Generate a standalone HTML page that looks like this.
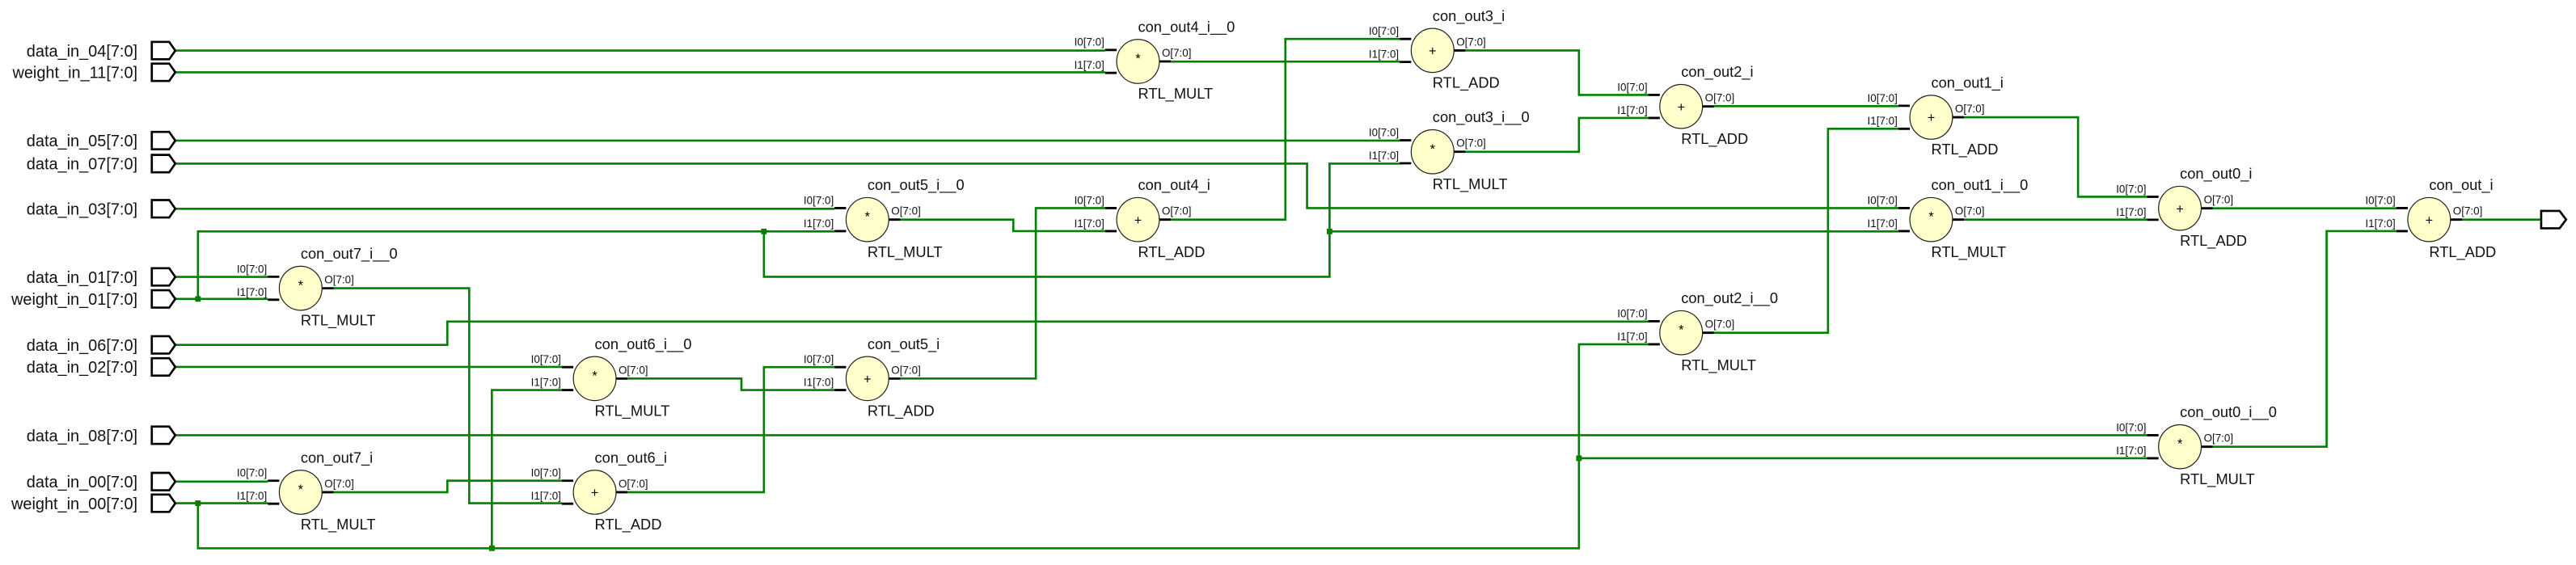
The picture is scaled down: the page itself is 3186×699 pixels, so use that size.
<!DOCTYPE html>
<html><head><meta charset="utf-8"><style>
html,body{margin:0;padding:0;background:#fff;width:3186px;height:699px;overflow:hidden}
svg{display:block}
.w{fill:none;stroke:#008000;stroke-width:1.3}
.st{stroke:#000;stroke-width:1.4}
.c{fill:#ffffcc;stroke:#222;stroke-width:.6}
.pl{font-family:"Liberation Sans",sans-serif;font-size:9.8px;fill:#111;text-anchor:end}
.n{font-family:"Liberation Sans",sans-serif;font-size:9px;fill:#111}
.p{font-family:"Liberation Sans",sans-serif;font-size:6.6px;fill:#111}
.pe{text-anchor:end}
.s{font-family:"Liberation Sans",sans-serif;font-size:8px;fill:#000;text-anchor:middle}
.port{fill:#fff;stroke:#000;stroke-width:1.3}
.j{fill:#008000}
</style></head><body>
<svg width="3186" height="699" viewBox="0 0 1568 344" xmlns="http://www.w3.org/2000/svg">
<path class="w" d="M106.7,30.8H672.7"/>
<path class="w" d="M106.7,44H672.7"/>
<path class="w" d="M106.7,85.6H852"/>
<path class="w" d="M106.7,99.6H795.6V126.7H1155.5"/>
<path class="w" d="M106.7,127.1H508"/>
<path class="w" d="M106.7,168.6H163"/>
<path class="w" d="M106.7,182H163M120.5,182V140.9H508M465,140.9V168.5H809.3V99.6H852M809.3,140.9H1155.5"/>
<path class="w" d="M203,175.5H285.6V306.4H342"/>
<path class="w" d="M106.7,210H272.3V195.8H1003.3"/>
<path class="w" d="M106.7,223.4H342"/>
<path class="w" d="M106.7,306.4H163M120.5,306.4V333.8H961.1V209.6H1003.3M299.4,333.8V237.5H342M961.1,279H1306.9"/>
<path class="w" d="M106.7,293.2H163"/>
<path class="w" d="M203,299.7H272.3V292.7H342"/>
<path class="w" d="M106.7,265H1306.9"/>
<path class="w" d="M382,230.5H451.3V237.5H508"/>
<path class="w" d="M382,299.7H465V223.5H508"/>
<path class="w" d="M548,133.7H616.8V140.7H672.7"/>
<path class="w" d="M548,230.5H630.5V126.7H672.7"/>
<path class="w" d="M712.7,133.7H782.4V23.7H852"/>
<path class="w" d="M712.7,37.5H852"/>
<path class="w" d="M892,30.7H961.1V57.8H1003.3"/>
<path class="w" d="M892,92.4H961.1V71.8H1003.3"/>
<path class="w" d="M1043.3,64.6H1155.5"/>
<path class="w" d="M1043.3,202.6H1112.7V78.4H1155.5"/>
<path class="w" d="M1195.5,71.4H1264.9V119.8H1306.9"/>
<path class="w" d="M1195.5,133.7H1306.9"/>
<path class="w" d="M1346.9,126.8H1458.6"/>
<path class="w" d="M1346.9,272H1416.2V140.7H1458.6"/>
<path class="w" d="M1498.6,133.7H1546.8"/>
<rect class="j" x="118.8" y="180.3" width="3.4" height="3.4"/>
<rect class="j" x="463.3" y="139.2" width="3.4" height="3.4"/>
<rect class="j" x="807.6" y="139.2" width="3.4" height="3.4"/>
<rect class="j" x="118.8" y="304.7" width="3.4" height="3.4"/>
<rect class="j" x="297.7" y="332.1" width="3.4" height="3.4"/>
<rect class="j" x="959.4" y="277.3" width="3.4" height="3.4"/>
<g>
<path class="port" d="M92.4,25.5H103L106.7,30.8L103,36.1H92.4Z"/><text class="pl" x="83.7" y="34.4">data_in_04[7:0]</text>
<path class="port" d="M92.4,38.7H103L106.7,44L103,49.3H92.4Z"/><text class="pl" x="83.7" y="47.6">weight_in_11[7:0]</text>
<path class="port" d="M92.4,80.3H103L106.7,85.6L103,90.9H92.4Z"/><text class="pl" x="83.7" y="89.2">data_in_05[7:0]</text>
<path class="port" d="M92.4,94.3H103L106.7,99.6L103,104.9H92.4Z"/><text class="pl" x="83.7" y="103.2">data_in_07[7:0]</text>
<path class="port" d="M92.4,121.8H103L106.7,127.1L103,132.4H92.4Z"/><text class="pl" x="83.7" y="130.7">data_in_03[7:0]</text>
<path class="port" d="M92.4,163.3H103L106.7,168.6L103,173.9H92.4Z"/><text class="pl" x="83.7" y="172.2">data_in_01[7:0]</text>
<path class="port" d="M92.4,176.7H103L106.7,182L103,187.3H92.4Z"/><text class="pl" x="83.7" y="185.6">weight_in_01[7:0]</text>
<path class="port" d="M92.4,204.7H103L106.7,210L103,215.3H92.4Z"/><text class="pl" x="83.7" y="213.6">data_in_06[7:0]</text>
<path class="port" d="M92.4,218.1H103L106.7,223.4L103,228.7H92.4Z"/><text class="pl" x="83.7" y="227">data_in_02[7:0]</text>
<path class="port" d="M92.4,259.7H103L106.7,265L103,270.3H92.4Z"/><text class="pl" x="83.7" y="268.6">data_in_08[7:0]</text>
<path class="port" d="M92.4,287.9H103L106.7,293.2L103,298.5H92.4Z"/><text class="pl" x="83.7" y="296.8">data_in_00[7:0]</text>
<path class="port" d="M92.4,301.1H103L106.7,306.4L103,311.7H92.4Z"/><text class="pl" x="83.7" y="310">weight_in_00[7:0]</text>
</g>
<path class="port" d="M1546.8,128.4H1558L1562,133.7L1558,139H1546.8Z"/>
<g transform="translate(183,175.5)"><path class="st" d="M-20,-7H-13M-20,7H-13M13,0H20"/><ellipse class="c" rx="13" ry="13.4"/><text class="s" y="1">*</text><text class="p pe" x="-20.5" y="-9.5">I0[7:0]</text><text class="p pe" x="-20.5" y="4.5">I1[7:0]</text><text class="p" x="14.5" y="-3">O[7:0]</text><text class="n" y="-18">con_out7_i__0</text><text class="n" y="22.7">RTL_MULT</text></g>
<g transform="translate(183,299.7)"><path class="st" d="M-20,-7H-13M-20,7H-13M13,0H20"/><ellipse class="c" rx="13" ry="13.4"/><text class="s" y="1">*</text><text class="p pe" x="-20.5" y="-9.5">I0[7:0]</text><text class="p pe" x="-20.5" y="4.5">I1[7:0]</text><text class="p" x="14.5" y="-3">O[7:0]</text><text class="n" y="-18">con_out7_i</text><text class="n" y="22.7">RTL_MULT</text></g>
<g transform="translate(362,230.5)"><path class="st" d="M-20,-7H-13M-20,7H-13M13,0H20"/><ellipse class="c" rx="13" ry="13.4"/><text class="s" y="1">*</text><text class="p pe" x="-20.5" y="-9.5">I0[7:0]</text><text class="p pe" x="-20.5" y="4.5">I1[7:0]</text><text class="p" x="14.5" y="-3">O[7:0]</text><text class="n" y="-18">con_out6_i__0</text><text class="n" y="22.7">RTL_MULT</text></g>
<g transform="translate(362,299.7)"><path class="st" d="M-20,-7H-13M-20,7H-13M13,0H20"/><ellipse class="c" rx="13" ry="13.4"/><text class="s" y="3">+</text><text class="p pe" x="-20.5" y="-9.5">I0[7:0]</text><text class="p pe" x="-20.5" y="4.5">I1[7:0]</text><text class="p" x="14.5" y="-3">O[7:0]</text><text class="n" y="-18">con_out6_i</text><text class="n" y="22.7">RTL_ADD</text></g>
<g transform="translate(528,133.7)"><path class="st" d="M-20,-7H-13M-20,7H-13M13,0H20"/><ellipse class="c" rx="13" ry="13.4"/><text class="s" y="1">*</text><text class="p pe" x="-20.5" y="-9.5">I0[7:0]</text><text class="p pe" x="-20.5" y="4.5">I1[7:0]</text><text class="p" x="14.5" y="-3">O[7:0]</text><text class="n" y="-18">con_out5_i__0</text><text class="n" y="22.7">RTL_MULT</text></g>
<g transform="translate(528,230.5)"><path class="st" d="M-20,-7H-13M-20,7H-13M13,0H20"/><ellipse class="c" rx="13" ry="13.4"/><text class="s" y="3">+</text><text class="p pe" x="-20.5" y="-9.5">I0[7:0]</text><text class="p pe" x="-20.5" y="4.5">I1[7:0]</text><text class="p" x="14.5" y="-3">O[7:0]</text><text class="n" y="-18">con_out5_i</text><text class="n" y="22.7">RTL_ADD</text></g>
<g transform="translate(692.7,37.4)"><path class="st" d="M-20,-7H-13M-20,7H-13M13,0H20"/><ellipse class="c" rx="13" ry="13.4"/><text class="s" y="1">*</text><text class="p pe" x="-20.5" y="-9.5">I0[7:0]</text><text class="p pe" x="-20.5" y="4.5">I1[7:0]</text><text class="p" x="14.5" y="-3">O[7:0]</text><text class="n" y="-18">con_out4_i__0</text><text class="n" y="22.7">RTL_MULT</text></g>
<g transform="translate(692.7,133.7)"><path class="st" d="M-20,-7H-13M-20,7H-13M13,0H20"/><ellipse class="c" rx="13" ry="13.4"/><text class="s" y="3">+</text><text class="p pe" x="-20.5" y="-9.5">I0[7:0]</text><text class="p pe" x="-20.5" y="4.5">I1[7:0]</text><text class="p" x="14.5" y="-3">O[7:0]</text><text class="n" y="-18">con_out4_i</text><text class="n" y="22.7">RTL_ADD</text></g>
<g transform="translate(872,30.7)"><path class="st" d="M-20,-7H-13M-20,7H-13M13,0H20"/><ellipse class="c" rx="13" ry="13.4"/><text class="s" y="3">+</text><text class="p pe" x="-20.5" y="-9.5">I0[7:0]</text><text class="p pe" x="-20.5" y="4.5">I1[7:0]</text><text class="p" x="14.5" y="-3">O[7:0]</text><text class="n" y="-18">con_out3_i</text><text class="n" y="22.7">RTL_ADD</text></g>
<g transform="translate(872,92.4)"><path class="st" d="M-20,-7H-13M-20,7H-13M13,0H20"/><ellipse class="c" rx="13" ry="13.4"/><text class="s" y="1">*</text><text class="p pe" x="-20.5" y="-9.5">I0[7:0]</text><text class="p pe" x="-20.5" y="4.5">I1[7:0]</text><text class="p" x="14.5" y="-3">O[7:0]</text><text class="n" y="-18">con_out3_i__0</text><text class="n" y="22.7">RTL_MULT</text></g>
<g transform="translate(1023.3,64.8)"><path class="st" d="M-20,-7H-13M-20,7H-13M13,0H20"/><ellipse class="c" rx="13" ry="13.4"/><text class="s" y="3">+</text><text class="p pe" x="-20.5" y="-9.5">I0[7:0]</text><text class="p pe" x="-20.5" y="4.5">I1[7:0]</text><text class="p" x="14.5" y="-3">O[7:0]</text><text class="n" y="-18">con_out2_i</text><text class="n" y="22.7">RTL_ADD</text></g>
<g transform="translate(1023.3,202.6)"><path class="st" d="M-20,-7H-13M-20,7H-13M13,0H20"/><ellipse class="c" rx="13" ry="13.4"/><text class="s" y="1">*</text><text class="p pe" x="-20.5" y="-9.5">I0[7:0]</text><text class="p pe" x="-20.5" y="4.5">I1[7:0]</text><text class="p" x="14.5" y="-3">O[7:0]</text><text class="n" y="-18">con_out2_i__0</text><text class="n" y="22.7">RTL_MULT</text></g>
<g transform="translate(1175.5,71.4)"><path class="st" d="M-20,-7H-13M-20,7H-13M13,0H20"/><ellipse class="c" rx="13" ry="13.4"/><text class="s" y="3">+</text><text class="p pe" x="-20.5" y="-9.5">I0[7:0]</text><text class="p pe" x="-20.5" y="4.5">I1[7:0]</text><text class="p" x="14.5" y="-3">O[7:0]</text><text class="n" y="-18">con_out1_i</text><text class="n" y="22.7">RTL_ADD</text></g>
<g transform="translate(1175.5,133.7)"><path class="st" d="M-20,-7H-13M-20,7H-13M13,0H20"/><ellipse class="c" rx="13" ry="13.4"/><text class="s" y="1">*</text><text class="p pe" x="-20.5" y="-9.5">I0[7:0]</text><text class="p pe" x="-20.5" y="4.5">I1[7:0]</text><text class="p" x="14.5" y="-3">O[7:0]</text><text class="n" y="-18">con_out1_i__0</text><text class="n" y="22.7">RTL_MULT</text></g>
<g transform="translate(1326.9,126.8)"><path class="st" d="M-20,-7H-13M-20,7H-13M13,0H20"/><ellipse class="c" rx="13" ry="13.4"/><text class="s" y="3">+</text><text class="p pe" x="-20.5" y="-9.5">I0[7:0]</text><text class="p pe" x="-20.5" y="4.5">I1[7:0]</text><text class="p" x="14.5" y="-3">O[7:0]</text><text class="n" y="-18">con_out0_i</text><text class="n" y="22.7">RTL_ADD</text></g>
<g transform="translate(1326.9,272)"><path class="st" d="M-20,-7H-13M-20,7H-13M13,0H20"/><ellipse class="c" rx="13" ry="13.4"/><text class="s" y="1">*</text><text class="p pe" x="-20.5" y="-9.5">I0[7:0]</text><text class="p pe" x="-20.5" y="4.5">I1[7:0]</text><text class="p" x="14.5" y="-3">O[7:0]</text><text class="n" y="-18">con_out0_i__0</text><text class="n" y="22.7">RTL_MULT</text></g>
<g transform="translate(1478.6,133.7)"><path class="st" d="M-20,-7H-13M-20,7H-13M13,0H20"/><ellipse class="c" rx="13" ry="13.4"/><text class="s" y="3">+</text><text class="p pe" x="-20.5" y="-9.5">I0[7:0]</text><text class="p pe" x="-20.5" y="4.5">I1[7:0]</text><text class="p" x="14.5" y="-3">O[7:0]</text><text class="n" y="-18">con_out_i</text><text class="n" y="22.7">RTL_ADD</text></g>
</svg>
</body></html>
